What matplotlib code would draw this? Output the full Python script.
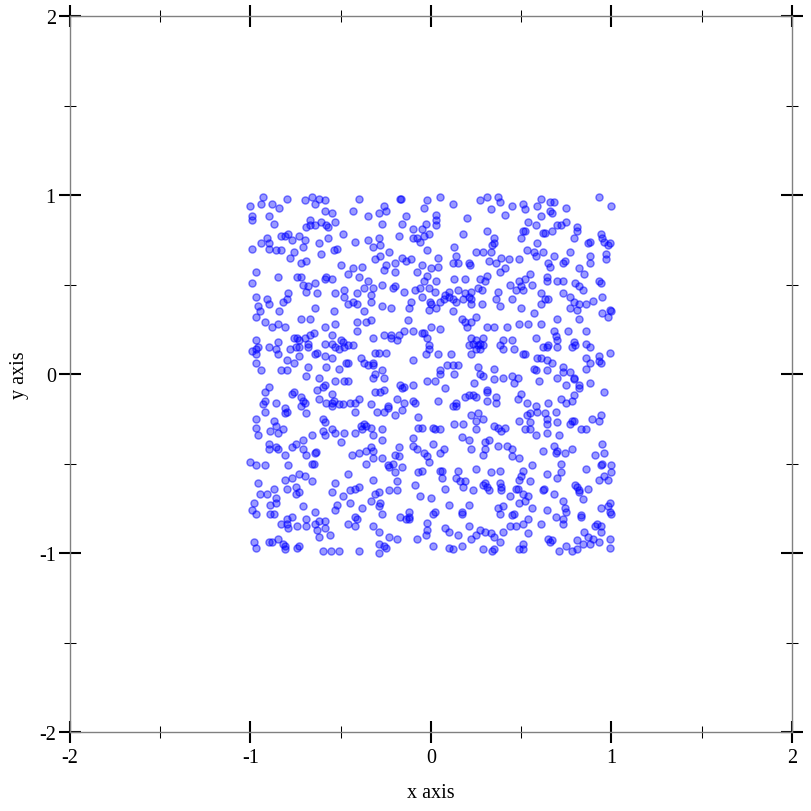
import matplotlib
matplotlib.use("Agg")
import matplotlib.pyplot as plt
import numpy as np
from matplotlib.ticker import MultipleLocator

# Points, grouped by region (x, y) in data units
pts_upper_left = [
    (-0.93, 0.99), (-0.94, 0.95), (-1.00, 0.94), (-0.88, 0.95), (-0.84, 0.93), (-0.80, 0.98),
    (-0.70, 0.97), (-0.66, 0.99), (-0.62, 0.98), (-0.59, 0.97), (-0.64, 0.95), (-0.40, 0.98),
    (-0.43, 0.91), (-0.59, 0.91), (-0.55, 0.90), (-0.35, 0.88), (-0.99, 0.88), (-0.99, 0.86),
    (-0.90, 0.88), (-0.87, 0.84), (-0.67, 0.86), (-0.69, 0.82), (-0.67, 0.83), (-0.64, 0.83),
    (-0.61, 0.85), (-0.58, 0.83), (-0.57, 0.82), (-0.53, 0.85), (-0.49, 0.78), (-0.81, 0.77),
    (-0.79, 0.78), (-0.83, 0.77), (-0.77, 0.75), (-0.73, 0.77), (-0.70, 0.75), (-0.91, 0.76),
    (-0.90, 0.73), (-0.94, 0.73), (-0.99, 0.70), (-0.90, 0.70), (-0.86, 0.69), (-0.83, 0.69),
    (-0.76, 0.68), (-0.78, 0.65), (-0.71, 0.71), (-0.62, 0.73), (-0.57, 0.76), (-0.61, 0.67),
    (-0.54, 0.69), (-0.52, 0.70), (-0.42, 0.74), (-0.35, 0.75), (-0.72, 0.62), (-0.69, 0.63),
    (-0.50, 0.61), (-0.43, 0.59), (-0.38, 0.60), (-0.46, 0.56), (-0.97, 0.57), (-0.99, 0.51),
    (-0.85, 0.54), (-0.74, 0.54), (-0.72, 0.54), (-0.71, 0.50), (-0.68, 0.49), (-0.69, 0.46),
    (-0.64, 0.51), (-0.59, 0.53), (-0.58, 0.54), (-0.55, 0.53), (-0.40, 0.54), (-0.35, 0.52),
    (-0.97, 0.43), (-0.91, 0.42), (-0.90, 0.39), (-0.79, 0.45), (-0.80, 0.42), (-0.82, 0.40),
    (-0.96, 0.38), (-0.63, 0.45), (-0.53, 0.45), (-0.48, 0.47), (-0.48, 0.43), (-0.41, 0.45),
    (-0.37, 0.48), (-0.46, 0.39), (-0.43, 0.40), (-0.41, 0.39), (-0.64, 0.37), (-0.54, 0.35),
    (-0.84, 0.35), (-0.95, 0.35), (-0.37, 0.35),
]
pts_upper_mid = [
    (-0.17, 0.98), (-0.165, 0.975), (-0.02, 0.97), (0.05, 0.99), (-0.04, 0.93), (0.12, 0.95),
    (0.27, 0.97), (0.31, 0.99), (0.33, 0.92), (-0.26, 0.94), (-0.29, 0.90), (-0.25, 0.91),
    (-0.14, 0.88), (-0.27, 0.84), (-0.16, 0.84), (0.03, 0.89), (0.03, 0.86), (0.03, 0.83),
    (-0.03, 0.84), (0.20, 0.87), (-0.10, 0.81), (-0.05, 0.81), (-0.18, 0.77), (-0.10, 0.76),
    (-0.08, 0.76), (-0.06, 0.74), (-0.04, 0.77), (-0.01, 0.78), (0.18, 0.78), (0.31, 0.80),
    (-0.29, 0.76), (-0.32, 0.71), (-0.28, 0.72), (0.13, 0.71), (-0.02, 0.69), (0.34, 0.72),
    (0.25, 0.68), (0.29, 0.68), (0.33, 0.68), (-0.23, 0.68), (-0.28, 0.66), (-0.31, 0.64),
    (0.14, 0.66), (0.12, 0.62), (0.15, 0.62), (0.04, 0.65), (0.32, 0.63), (-0.16, 0.65),
    (-0.14, 0.63), (-0.11, 0.64), (-0.20, 0.62), (-0.25, 0.61), (-0.26, 0.58), (-0.05, 0.61),
    (0.00, 0.59), (0.04, 0.60), (0.21, 0.62), (0.215, 0.61), (-0.08, 0.57), (-0.20, 0.57),
    (0.31, 0.55), (-0.02, 0.55), (-0.04, 0.52), (-0.32, 0.48), (-0.27, 0.50), (0.03, 0.52),
    (0.13, 0.53), (0.19, 0.53), (0.27, 0.53), (0.30, 0.52), (-0.21, 0.48), (-0.20, 0.49),
    (-0.15, 0.46), (-0.09, 0.47), (-0.06, 0.48), (-0.01, 0.48), (0.02, 0.46), (-0.33, 0.44),
    (0.10, 0.46), (0.15, 0.47), (0.08, 0.44), (0.10, 0.43), (0.12, 0.42), (0.07, 0.42),
    (0.19, 0.45), (0.22, 0.46), (0.26, 0.48), (0.28, 0.47), (-0.05, 0.43), (0.00, 0.39),
    (-0.005, 0.40), (0.05, 0.40), (0.14, 0.40), (0.21, 0.43), (0.22, 0.42), (0.18, 0.42),
    (-0.33, 0.40), (-0.27, 0.38), (-0.22, 0.37), (-0.12, 0.37), (-0.11, 0.40), (-0.01, 0.36),
    (0.03, 0.37), (0.12, 0.35), (0.22, 0.39), (0.28, 0.39),
]
pts_upper_right = [
    (0.37, 0.99), (0.38, 0.96), (0.45, 0.94), (0.51, 0.95), (0.52, 0.92), (0.59, 0.94),
    (0.61, 0.98), (0.66, 0.96), (0.68, 0.96), (0.66, 0.91), (0.67, 0.90), (0.75, 0.93),
    (0.93, 0.99), (1.00, 0.94), (0.41, 0.89), (0.61, 0.88), (0.54, 0.85), (0.58, 0.83),
    (0.51, 0.80), (0.52, 0.80), (0.50, 0.76), (0.62, 0.79), (0.63, 0.79), (0.67, 0.80),
    (0.70, 0.83), (0.72, 0.83), (0.75, 0.85), (0.81, 0.82), (0.81, 0.80), (0.79, 0.76),
    (0.88, 0.74), (0.87, 0.73), (0.94, 0.78), (0.95, 0.76), (0.96, 0.74), (0.98, 0.72),
    (0.99, 0.73), (0.35, 0.76), (0.35, 0.73), (0.59, 0.73), (0.53, 0.69), (0.57, 0.68),
    (0.58, 0.66), (0.62, 0.68), (0.68, 0.66), (0.77, 0.68), (0.97, 0.67), (0.97, 0.64),
    (0.88, 0.66), (0.88, 0.62), (0.39, 0.65), (0.43, 0.64), (0.36, 0.62), (0.49, 0.64),
    (0.65, 0.62), (0.66, 0.60), (0.73, 0.62), (0.74, 0.63), (0.82, 0.59), (0.38, 0.57),
    (0.41, 0.59), (0.55, 0.56), (0.52, 0.53), (0.49, 0.52), (0.85, 0.56), (0.64, 0.54),
    (0.64, 0.52), (0.70, 0.52), (0.73, 0.52), (0.56, 0.50), (0.80, 0.51), (0.82, 0.49),
    (0.84, 0.47), (0.93, 0.52), (0.94, 0.51), (0.44, 0.50), (0.47, 0.47), (0.50, 0.49),
    (0.51, 0.47), (0.37, 0.46), (0.61, 0.45), (0.73, 0.45), (0.77, 0.43), (0.79, 0.40),
    (0.82, 0.39), (0.63, 0.42), (0.65, 0.42), (0.45, 0.42), (0.36, 0.42), (0.90, 0.41),
    (0.95, 0.43), (0.38, 0.38), (0.50, 0.37), (0.61, 0.39), (0.77, 0.37), (0.81, 0.36),
    (0.86, 0.39), (0.57, 0.34), (0.99, 0.36), (0.996, 0.35), (0.95, 0.34),
]
pts_middle_left = [
    (-0.97, 0.32), (-0.92, 0.29), (-0.88, 0.26), (-0.85, 0.28), (-0.81, 0.26), (-0.72, 0.31),
    (-0.67, 0.31), (-0.59, 0.26), (-0.53, 0.28), (-0.41, 0.29), (-0.36, 0.29), (-0.41, 0.24),
    (-0.97, 0.19), (-0.99, 0.13), (-0.97, 0.14), (-0.96, 0.15), (-0.97, 0.11), (-0.90, 0.15),
    (-0.85, 0.18), (-0.86, 0.14), (-0.85, 0.11), (-0.76, 0.20), (-0.74, 0.20), (-0.73, 0.19),
    (-0.70, 0.20), (-0.67, 0.22), (-0.65, 0.23), (-0.75, 0.15), (-0.78, 0.14), (-0.73, 0.15),
    (-0.68, 0.15), (-0.68, 0.17), (-0.63, 0.12), (-0.64, 0.11), (-0.59, 0.17), (-0.55, 0.22),
    (-0.55, 0.17), (-0.53, 0.15), (-0.50, 0.19), (-0.49, 0.18), (-0.51, 0.14), (-0.48, 0.15),
    (-0.46, 0.16), (-0.43, 0.16), (-0.73, 0.10), (-0.59, 0.10), (-0.55, 0.09), (-0.80, 0.08),
    (-0.76, 0.06), (-0.97, 0.06), (-0.94, 0.02), (-0.83, 0.02), (-0.80, 0.02), (-0.68, 0.04),
    (-0.69, -0.01), (-0.58, 0.04), (-0.47, 0.06), (-0.46, 0.06), (-0.39, 0.09), (-0.37, 0.06),
    (-0.35, 0.05), (-0.51, 0.03), (-0.62, -0.02), (-0.59, -0.06), (-0.60, -0.07), (-0.63, -0.09),
    (-0.53, -0.04), (-0.48, -0.04), (-0.46, -0.04), (-0.90, -0.07), (-0.92, -0.10), (-0.76, -0.10),
    (-0.77, -0.11), (-0.55, -0.11), (-0.72, -0.13), (-0.71, -0.15), (-0.72, -0.18), (-0.70, -0.16),
    (-0.62, -0.14), (-0.58, -0.16), (-0.55, -0.16), (-0.54, -0.15), (-0.55, -0.18), (-0.51, -0.17),
    (-0.49, -0.17), (-0.45, -0.16), (-0.40, -0.14), (-0.42, -0.16), (-0.93, -0.17), (-0.92, -0.15),
    (-0.86, -0.16), (-0.92, -0.21), (-0.81, -0.19), (-0.80, -0.21), (-0.81, -0.22), (-0.69, -0.22),
    (-0.60, -0.25), (-0.59, -0.27), (-0.42, -0.21), (-0.97, -0.25), (-0.87, -0.26), (-0.86, -0.29),
    (-0.37, -0.28), (-0.39, -0.29), (-0.36, -0.29), (-0.38, -0.31), (-0.97, -0.30), (-0.96, -0.34),
    (-0.89, -0.32), (-0.85, -0.33), (-0.82, -0.31), (-0.60, -0.32), (-0.59, -0.34), (-0.55, -0.31),
    (-0.53, -0.33), (-0.48, -0.33), (-0.42, -0.33), (-0.66, -0.34),
]
pts_center = [
    (-0.33, 0.30), (-0.13, 0.30), (0.17, 0.31), (0.19, 0.29), (0.22, 0.29), (0.25, 0.32),
    (0.20, 0.26), (0.31, 0.26), (0.00, 0.26), (0.05, 0.25), (-0.15, 0.24), (-0.10, 0.24),
    (-0.05, 0.23), (-0.04, 0.23), (-0.26, 0.22), (-0.22, 0.22), (-0.18, 0.22), (-0.22, 0.20),
    (-0.19, 0.19), (-0.02, 0.20), (-0.01, 0.16), (-0.01, 0.14), (-0.32, 0.20), (0.22, 0.20),
    (0.23, 0.17), (0.25, 0.19), (0.26, 0.16), (0.27, 0.17), (0.29, 0.20), (0.29, 0.16),
    (0.27, 0.14), (0.25, 0.14), (0.21, 0.16), (0.22, 0.11), (-0.29, 0.12), (-0.25, 0.12),
    (-0.31, 0.12), (-0.03, 0.11), (0.04, 0.11), (0.11, 0.11), (-0.10, 0.08), (-0.32, 0.06),
    (-0.32, 0.05), (0.09, 0.05), (0.12, 0.05), (0.15, 0.05), (0.05, 0.02), (0.05, 0.00),
    (0.13, 0.00), (0.26, 0.04), (0.27, 0.00), (0.29, -0.01), (-0.27, 0.02), (-0.26, -0.02),
    (-0.31, 0.00), (-0.32, -0.02), (0.24, -0.05), (-0.17, -0.06), (-0.15, -0.07), (-0.16, -0.08),
    (-0.10, -0.06), (-0.02, -0.04), (0.02, -0.04), (0.08, -0.08), (-0.31, -0.10), (-0.28, -0.10),
    (-0.26, -0.09), (0.21, -0.12), (0.19, -0.13), (0.23, -0.12), (0.25, -0.13), (0.31, -0.09),
    (0.31, -0.10), (0.31, -0.15), (-0.19, -0.14), (-0.15, -0.16), (-0.10, -0.15), (-0.09, -0.16),
    (0.04, -0.15), (0.12, -0.18), (0.14, -0.16), (0.14, -0.18), (-0.33, -0.17), (-0.24, -0.18),
    (-0.24, -0.19), (-0.30, -0.21), (-0.26, -0.21), (-0.20, -0.23), (-0.16, -0.20), (-0.07, -0.24),
    (0.26, -0.22), (0.22, -0.23), (0.25, -0.26), (0.29, -0.25), (0.13, -0.28), (0.18, -0.28),
    (0.25, -0.31), (-0.07, -0.30), (-0.05, -0.30), (0.01, -0.30), (0.02, -0.31), (0.05, -0.31),
    (-0.33, -0.30), (-0.27, -0.31), (-0.32, -0.34), (0.17, -0.35),
]
pts_middle_right = [
    (0.61, 0.28), (0.70, 0.31), (0.82, 0.31), (0.98, 0.32), (0.35, 0.26), (0.42, 0.26),
    (0.49, 0.28), (0.54, 0.28), (0.68, 0.24), (0.69, 0.21), (0.76, 0.24), (0.86, 0.24),
    (0.40, 0.19), (0.45, 0.19), (0.58, 0.20), (0.38, 0.16), (0.40, 0.14), (0.46, 0.14),
    (0.51, 0.11), (0.52, 0.11), (0.62, 0.15), (0.64, 0.15), (0.65, 0.16), (0.70, 0.19),
    (0.70, 0.15), (0.78, 0.15), (0.80, 0.16), (0.79, 0.18), (0.86, 0.17), (0.88, 0.15),
    (0.99, 0.12), (0.59, 0.09), (0.61, 0.09), (0.64, 0.08), (0.67, 0.06), (0.73, 0.04),
    (0.73, 0.01), (0.77, 0.01), (0.86, 0.09), (0.88, 0.06), (0.86, 0.03), (0.93, 0.10),
    (0.93, 0.07), (0.94, 0.06), (0.35, 0.03), (0.57, 0.03), (0.58, 0.02), (0.64, 0.02),
    (0.40, -0.02), (0.45, -0.01), (0.48, -0.02), (0.46, -0.05), (0.35, -0.03), (0.60, -0.04),
    (0.70, -0.02), (0.79, -0.02), (0.79, -0.03), (0.75, -0.06), (0.82, -0.06), (0.82, -0.08),
    (0.88, -0.05), (0.96, -0.10), (0.36, -0.13), (0.36, -0.16), (0.50, -0.11), (0.48, -0.14),
    (0.53, -0.16), (0.58, -0.18), (0.59, -0.21), (0.65, -0.16), (0.72, -0.14), (0.75, -0.16),
    (0.79, -0.12), (0.78, -0.15), (0.69, -0.21), (0.55, -0.22), (0.53, -0.23), (0.63, -0.22),
    (0.64, -0.25), (0.89, -0.25), (0.94, -0.23), (0.93, -0.26), (0.49, -0.26), (0.55, -0.27),
    (0.64, -0.28), (0.70, -0.27), (0.78, -0.26), (0.79, -0.26), (0.77, -0.28), (0.35, -0.29),
    (0.37, -0.30), (0.41, -0.30), (0.39, -0.32), (0.52, -0.31), (0.55, -0.31), (0.58, -0.34),
    (0.64, -0.33), (0.71, -0.34), (0.83, -0.31), (0.86, -0.31),
]
pts_lower_left = [
    (-0.90, -0.39), (-0.90, -0.42), (-0.86, -0.41), (-0.85, -0.42), (-0.75, -0.39), (-0.77, -0.41),
    (-0.81, -0.45), (-0.71, -0.37), (-0.71, -0.42), (-0.69, -0.45), (-0.64, -0.44), (-0.635, -0.435),
    (-0.50, -0.38), (-0.40, -0.44), (-0.44, -0.45), (-0.36, -0.43), (-1.00, -0.49), (-0.97, -0.51),
    (-0.92, -0.51), (-0.79, -0.51), (-0.66, -0.50), (-0.65, -0.50), (-0.36, -0.50), (-0.46, -0.56),
    (-0.73, -0.56), (-0.70, -0.57), (-0.81, -0.59), (-0.77, -0.58), (-0.80, -0.64), (-0.66, -0.60),
    (-0.96, -0.61), (-0.87, -0.64), (-0.75, -0.63), (-0.73, -0.66), (-0.75, -0.67), (-0.53, -0.61),
    (-0.55, -0.66), (-0.49, -0.68), (-0.45, -0.65), (-0.42, -0.64), (-0.40, -0.63), (-0.95, -0.67),
    (-0.91, -0.67), (-0.86, -0.69), (-0.86, -0.72), (-0.89, -0.73), (-0.98, -0.72), (-0.99, -0.76),
    (-0.97, -0.78), (-0.71, -0.74), (-0.64, -0.77), (-0.53, -0.76), (-0.52, -0.73), (-0.45, -0.72),
    (-0.38, -0.75), (-0.89, -0.78), (-0.87, -0.78), (-0.80, -0.81), (-0.77, -0.80), (-0.83, -0.84),
    (-0.80, -0.84), (-0.79, -0.86), (-0.74, -0.85), (-0.69, -0.81), (-0.69, -0.85), (-0.64, -0.84),
    (-0.62, -0.82), (-0.59, -0.82), (-0.63, -0.87), (-0.59, -0.86), (-0.62, -0.91), (-0.42, -0.80),
    (-0.41, -0.81), (-0.46, -0.84), (-0.42, -0.85), (-0.56, -0.90), (-0.98, -0.94), (-0.97, -0.97),
    (-0.90, -0.94), (-0.88, -0.94), (-0.85, -0.92), (-0.82, -0.95), (-0.81, -0.96), (-0.81, -0.98),
    (-0.74, -0.97), (-0.73, -0.96), (-0.60, -0.99), (-0.555, -0.99), (-0.51, -0.99), (-0.40, -0.99),
]
pts_lower_mid = [
    (-0.27, -0.37), (-0.33, -0.41), (-0.32, -0.43), (-0.32, -0.47), (-0.27, -0.47), (-0.10, -0.36),
    (-0.10, -0.40), (-0.08, -0.42), (0.01, -0.39), (0.05, -0.44), (0.07, -0.42), (0.21, -0.37),
    (0.22, -0.42), (0.30, -0.38), (0.32, -0.37), (0.30, -0.42), (0.29, -0.45), (-0.20, -0.45),
    (-0.18, -0.41), (-0.18, -0.46), (-0.24, -0.51), (-0.23, -0.52), (-0.21, -0.50), (-0.16, -0.52),
    (-0.20, -0.55), (-0.04, -0.44), (-0.02, -0.46), (-0.01, -0.49), (-0.05, -0.54), (-0.07, -0.55),
    (0.05, -0.54), (0.06, -0.54), (0.06, -0.58), (0.15, -0.54), (0.14, -0.58), (0.16, -0.60),
    (0.19, -0.60), (0.18, -0.63), (0.25, -0.53), (0.33, -0.55), (0.29, -0.62), (0.30, -0.61),
    (0.31, -0.63), (0.32, -0.65), (0.23, -0.65), (-0.32, -0.59), (-0.19, -0.60), (-0.19, -0.65),
    (-0.23, -0.65), (-0.09, -0.62), (0.08, -0.64), (-0.29, -0.66), (-0.31, -0.67), (-0.33, -0.71),
    (-0.28, -0.72), (-0.29, -0.74), (-0.27, -0.78), (-0.06, -0.68), (0.00, -0.69), (0.10, -0.73),
    (0.21, -0.73), (-0.12, -0.77), (-0.12, -0.80), (-0.12, -0.81), (-0.14, -0.81), (-0.17, -0.80),
    (0.02, -0.77), (0.01, -0.78), (-0.02, -0.83), (0.17, -0.77), (0.17, -0.78), (0.21, -0.85),
    (0.27, -0.87), (0.30, -0.88), (0.33, -0.89), (0.25, -0.90), (0.22, -0.92), (-0.32, -0.85),
    (-0.29, -0.88), (-0.02, -0.87), (-0.03, -0.90), (0.08, -0.86), (0.10, -0.88), (0.15, -0.90),
    (-0.23, -0.91), (-0.19, -0.92), (-0.08, -0.92), (-0.29, -0.95), (-0.26, -0.96), (-0.25, -0.97),
    (-0.29, -1.00), (0.01, -0.96), (0.10, -0.97), (0.12, -0.98), (0.17, -0.96), (0.29, -0.98),
    (0.34, -0.99),
]
pts_lower_right = [
    (0.37, -0.40), (0.42, -0.40), (0.45, -0.42), (0.45, -0.46), (0.49, -0.47), (0.62, -0.43),
    (0.68, -0.40), (0.69, -0.44), (0.70, -0.43), (0.74, -0.44), (0.78, -0.42), (0.95, -0.39),
    (0.96, -0.44), (0.91, -0.45), (0.38, -0.54), (0.51, -0.54), (0.56, -0.51), (0.50, -0.57),
    (0.49, -0.59), (0.55, -0.60), (0.64, -0.56), (0.70, -0.58), (0.72, -0.55), (0.72, -0.50),
    (0.86, -0.53), (0.94, -0.51), (0.945, -0.505), (1.00, -0.51), (1.00, -0.55), (0.96, -0.57),
    (0.98, -0.59), (0.93, -0.59), (0.38, -0.61), (0.39, -0.63), (0.39, -0.65), (0.47, -0.64),
    (0.48, -0.64), (0.62, -0.65), (0.625, -0.645), (0.80, -0.62), (0.81, -0.63), (0.82, -0.65),
    (0.82, -0.66), (0.84, -0.70), (0.87, -0.64), (0.44, -0.68), (0.51, -0.67), (0.54, -0.68),
    (0.52, -0.71), (0.49, -0.72), (0.68, -0.67), (0.73, -0.71), (0.56, -0.75), (0.37, -0.75),
    (0.40, -0.74), (0.38, -0.78), (0.64, -0.76), (0.74, -0.75), (0.75, -0.77), (0.94, -0.75),
    (0.98, -0.74), (0.99, -0.72), (0.99, -0.77), (1.00, -0.78), (0.46, -0.78), (0.45, -0.79),
    (0.54, -0.81), (0.44, -0.85), (0.47, -0.85), (0.51, -0.84), (0.61, -0.84), (0.69, -0.80),
    (0.73, -0.81), (0.73, -0.84), (0.83, -0.79), (0.83, -0.80), (0.40, -0.88), (0.35, -0.91),
    (0.38, -0.94), (0.54, -0.89), (0.65, -0.92), (0.66, -0.94), (0.67, -0.93), (0.85, -0.88),
    (0.87, -0.91), (0.91, -0.85), (0.92, -0.84), (0.94, -0.85), (0.94, -0.88), (0.90, -0.92),
    (0.99, -0.92), (0.75, -0.96), (0.81, -0.93), (0.84, -0.95), (0.88, -0.95), (0.93, -0.94),
    (0.49, -0.98), (0.51, -0.98), (0.51, -0.95), (0.71, -0.99), (0.78, -0.99), (0.81, -0.98),
    (0.99, -0.97), (0.35, -0.98),
]

all_pts = (pts_upper_left + pts_upper_mid + pts_upper_right + pts_middle_left + pts_center
           + pts_middle_right + pts_lower_left + pts_lower_mid + pts_lower_right)
xs = np.array([p[0] for p in all_pts])
ys = np.array([p[1] for p in all_pts])

x_ticks = [-2, -1, 0, 1, 2]
y_ticks = [-2, -1, 0, 1, 2]
x_label = "x axis"
y_label = "y axis"

serif = "Liberation Serif"

fig = plt.figure(figsize=(8.12, 8.12), dpi=100)
ax = fig.add_axes([70 / 812, 1 - 733 / 812, 722 / 812, 716 / 812])
ax.scatter(xs, ys, s=26, facecolors=(0, 0, 1, 0.4), edgecolors=(0, 0, 1, 0.5),
           linewidths=1.0, zorder=3)

ax.set_xlim(-2, 2)
ax.set_ylim(-2, 2)
ax.set_xticks(x_ticks)
ax.set_yticks(y_ticks)
ax.set_xticklabels([str(t) for t in x_ticks])
ax.set_yticklabels([str(t) for t in y_ticks])
ax.xaxis.set_minor_locator(MultipleLocator(0.5))
ax.yaxis.set_minor_locator(MultipleLocator(0.5))

for s in ax.spines.values():
    s.set_color("#808080")
    s.set_linewidth(1.0)

ax.tick_params(which="major", direction="inout", length=16.5, width=1.5, color="black",
               top=True, right=True, labeltop=False, labelright=False,
               labelsize=14.5)
ax.tick_params(axis="x", which="major", pad=3.5)
ax.tick_params(axis="y", which="major", pad=2)
ax.tick_params(which="minor", direction="inout", length=8.5, width=0.75, color="black",
               top=True, right=True)
for lab in ax.get_xticklabels() + ax.get_yticklabels():
    lab.set_fontfamily(serif)

ax.set_xlabel(x_label, fontfamily=serif, fontsize=14.5, labelpad=11)
ax.set_ylabel(y_label, fontfamily=serif, fontsize=14.5, labelpad=7)

fig.savefig("out.png", dpi=100)
